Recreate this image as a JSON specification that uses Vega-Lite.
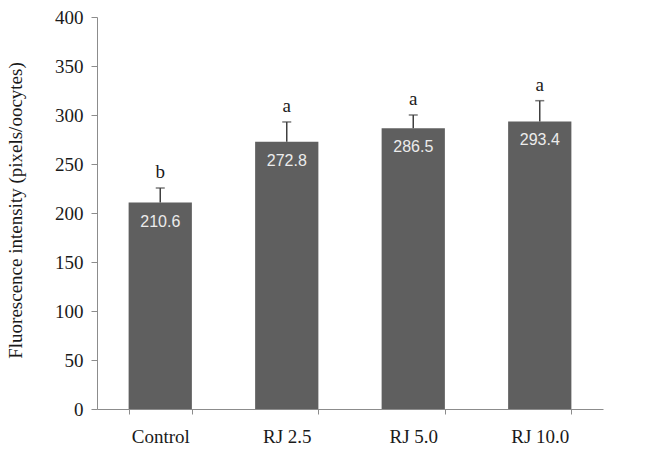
{
  "$schema": "https://vega.github.io/schema/vega-lite/v6.json",
  "autosize": "none",
  "padding": {"left": 97, "top": 17, "right": 62, "bottom": 46},
  "width": 506,
  "height": 392,
  "background": "white",
  "data": {
    "values": [
      {"group": "Control", "mean": 210.6, "upper": 225.5, "letter": "b"},
      {"group": "RJ 2.5", "mean": 272.8, "upper": 292.9, "letter": "a"},
      {"group": "RJ 5.0", "mean": 286.5, "upper": 300.0, "letter": "a"},
      {"group": "RJ 10.0", "mean": 293.4, "upper": 314.6, "letter": "a"}
    ]
  },
  "config": {
    "view": {"stroke": null},
    "axis": {
      "labelFont": "Liberation Serif",
      "titleFont": "Liberation Serif",
      "labelColor": "#1a1a1a",
      "titleColor": "#1a1a1a",
      "domainColor": "#8c8c8c",
      "tickColor": "#8c8c8c",
      "grid": false,
      "labelFontSize": 19,
      "titleFontSize": 19,
      "titleFontWeight": "normal"
    }
  },
  "encoding": {
    "x": {
      "field": "group",
      "type": "nominal",
      "sort": null,
      "scale": {"paddingInner": 0.5, "paddingOuter": 0.25},
      "axis": {
        "title": null,
        "labelAngle": 0,
        "tickBand": "extent",
        "tickSize": 5,
        "labelPadding": 13
      }
    }
  },
  "layer": [
    {
      "mark": {"type": "bar", "color": "#5f5f5f"},
      "encoding": {
        "y": {
          "field": "mean",
          "type": "quantitative",
          "scale": {"domain": [0, 400], "nice": false},
          "axis": {
            "title": "Fluorescence intensity (pixels/oocytes)",
            "values": [0, 50, 100, 150, 200, 250, 300, 350, 400],
            "tickSize": 6,
            "labelPadding": 8,
            "titleAngle": -90,
            "titleX": -82,
            "titleY": 193,
            "titleAlign": "center",
            "titleBaseline": "middle"
          }
        }
      }
    },
    {
      "mark": {"type": "rule", "color": "#404040", "strokeWidth": 1.5},
      "encoding": {
        "y": {"field": "mean", "type": "quantitative"},
        "y2": {"field": "upper"}
      }
    },
    {
      "mark": {"type": "tick", "color": "#404040", "thickness": 1.5, "size": 9, "orient": "horizontal"},
      "encoding": {
        "y": {"field": "upper", "type": "quantitative"}
      }
    },
    {
      "mark": {"type": "text", "font": "Liberation Serif", "fontSize": 19, "color": "#1a1a1a", "baseline": "alphabetic", "dy": -10},
      "encoding": {
        "y": {"field": "upper", "type": "quantitative"},
        "text": {"field": "letter"}
      }
    },
    {
      "mark": {"type": "text", "font": "Liberation Sans", "fontSize": 16, "color": "#ececec", "baseline": "alphabetic", "dy": 24},
      "encoding": {
        "y": {"field": "mean", "type": "quantitative"},
        "text": {"field": "mean", "format": ".1f"}
      }
    }
  ]
}
